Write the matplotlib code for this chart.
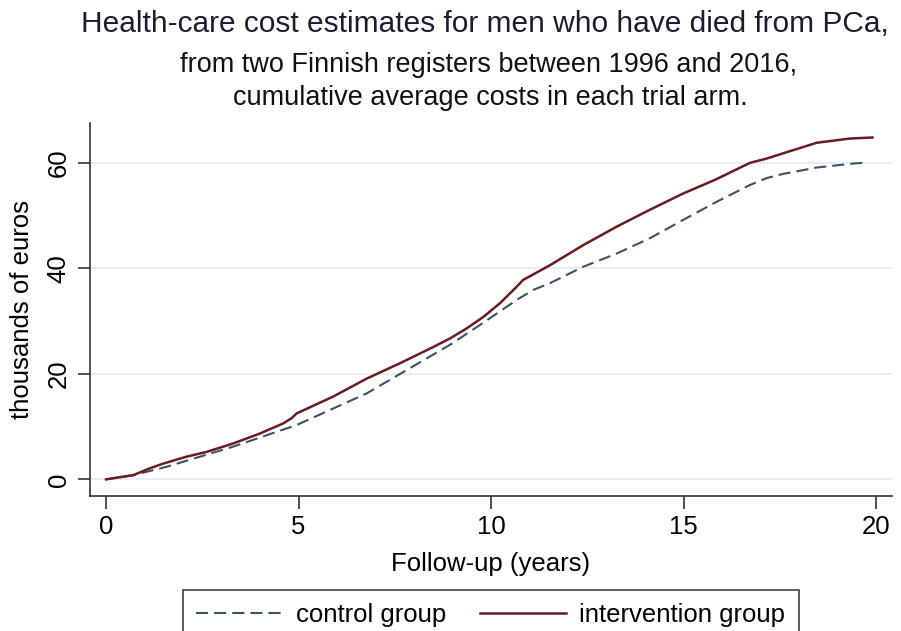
import numpy as np
import matplotlib.pyplot as plt

plt.rcParams['font.family'] = ['Liberation Sans', 'DejaVu Sans']

# follow-up years and cumulative average costs (thousands of euros)
years_int = [0, 0.71, 1.14, 1.49, 2.09, 2.61, 3.30, 4.0, 4.6, 4.82, 4.95, 5.9, 6.77, 7.63,
             8.5, 8.93, 9.36, 9.80, 10.23, 10.66, 10.83, 11.53, 12.39, 13.26, 14.12, 14.99,
             15.85, 16.72, 17.15, 17.58, 18.45, 19.31, 19.9]
cost_int = [0, 0.8, 2.1, 3.0, 4.3, 5.2, 6.8, 8.7, 10.6, 11.6, 12.5, 15.7, 19.1, 22.0,
            25.1, 26.7, 28.6, 30.8, 33.4, 36.5, 37.8, 40.6, 44.4, 47.9, 51.1, 54.2,
            56.9, 60.0, 60.8, 61.8, 63.8, 64.6, 64.8]

years_ctl = [0, 0.71, 1.58, 3.30, 4.95, 6.77, 8.93, 9.80, 10.66, 11.09, 11.53, 12.39,
             13.26, 14.12, 14.99, 15.85, 16.72, 17.15, 17.58, 18.45, 19.31, 19.79]
cost_ctl = [0, 0.8, 2.4, 6.2, 10.3, 16.3, 25.5, 29.7, 34.0, 35.9, 37.2, 40.3,
            42.8, 45.7, 49.2, 52.6, 55.8, 57.1, 57.9, 59.1, 59.8, 60.1]

x_ticks = [0, 5, 10, 15, 20]
y_ticks = [0, 20, 40, 60]

fig = plt.figure(figsize=(9.01, 6.31), dpi=100)
ax = fig.add_axes([0.0999, 0.2144, 0.8898, 0.5911])

ax.plot(years_ctl, cost_ctl, color='#3f5069', lw=1.5, dashes=(5.8, 2.9),
        label='control group')
ax.plot(years_int, cost_int, color='#6b1c22', lw=1.8, label='intervention group')

ax.set_xlim(-0.415, 20.4)
ax.set_ylim(-3.1, 67.6)
ax.set_xticks(x_ticks)
ax.set_yticks(y_ticks)
ax.grid(axis='y', color='#e4ebf0', lw=1.2)
ax.set_axisbelow(True)
for s in ['top', 'right']:
    ax.spines[s].set_visible(False)
for s in ['left', 'bottom']:
    ax.spines[s].set_color('#333333')
    ax.spines[s].set_linewidth(1.2)
ax.tick_params(direction='out', length=9, width=1.2, color='#333333',
               labelsize=18.5, pad=5)
for lab in ax.get_yticklabels():
    lab.set_rotation(90)
    lab.set_va('center')

ax.set_xlabel('Follow-up (years)', fontsize=18.5, labelpad=9)
ax.set_ylabel('thousands of euros', fontsize=18.5, labelpad=9)

fig.text(485 / 901, 1 - 32 / 631, 'Health-care cost estimates for men who have died from PCa,',
         ha='center', va='baseline', fontsize=21.5, color='#1c1c30')
fig.text(489 / 901, 1 - 72 / 631, 'from two Finnish registers between 1996 and 2016,',
         ha='center', va='baseline', fontsize=19.5, color='#111111')
fig.text(490 / 901, 1 - 105 / 631, 'cumulative average costs in each trial arm.',
         ha='center', va='baseline', fontsize=19.5, color='#111111')

leg = fig.legend(loc='upper left', bbox_to_anchor=(183 / 901, 1 - 590 / 631),
                 borderaxespad=0, ncol=2, fontsize=18.5, frameon=True, fancybox=False,
                 edgecolor='#111111', handlelength=3.35, columnspacing=1.3,
                 borderpad=0.52, handletextpad=0.53)
leg.get_frame().set_linewidth(1.2)

fig.savefig('out.png', dpi=100)
